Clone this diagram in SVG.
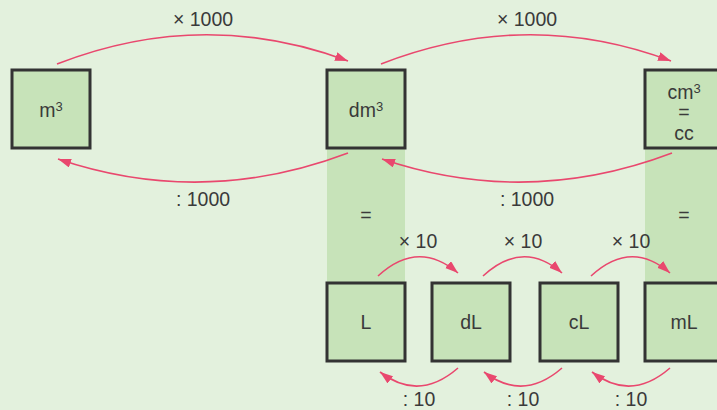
<svg xmlns="http://www.w3.org/2000/svg" width="717" height="410" viewBox="0 0 717 410">
<defs>
<style>
.box{fill:#c7e3b9;stroke:#333;stroke-width:3}
.strip{fill:#c7e3b9}
.t{font-family:"Liberation Sans",Arial,sans-serif;font-size:19.5px;fill:#3a3a3a;text-anchor:middle}
.s{font-size:13px}
.c{fill:none;stroke:#e9486e;stroke-width:1.6}
</style>
<marker id="ah" markerUnits="userSpaceOnUse" markerWidth="14" markerHeight="10" refX="13" refY="4.5" orient="auto">
<path d="M0,0 L13,4.5 L0,9 z" fill="#e9486e"/>
</marker>
</defs>
<rect width="717" height="410" fill="#e3f1dd"/>
<rect class="strip" x="327" y="148" width="78" height="134"/>
<rect class="strip" x="645" y="148" width="72" height="134"/>
<text class="t" x="366" y="222">=</text>
<text class="t" x="684" y="222">=</text>
<g id="connectors">
<path class="c" marker-end="url(#ah)" d="M57,64 Q203,7 348,61"/>
<path class="c" marker-end="url(#ah)" d="M381,64 Q527,7 671,61"/>
<path class="c" marker-end="url(#ah)" d="M348,153 Q203,208 58,159"/>
<path class="c" marker-end="url(#ah)" d="M672,153 Q527,208 382,159"/>
<path class="c" marker-end="url(#ah)" d="M378,276 Q418,239 458,273"/>
<path class="c" marker-end="url(#ah)" d="M483,276 Q523,239 562,273"/>
<path class="c" marker-end="url(#ah)" d="M591,276 Q631,239 670,273"/>
<path class="c" marker-end="url(#ah)" d="M458,368 Q419,402 380,372"/>
<path class="c" marker-end="url(#ah)" d="M562,368 Q523,402 484,372"/>
<path class="c" marker-end="url(#ah)" d="M670,368 Q631,402 592,372"/>
<text class="t" x="203" y="26">× 1000</text>
<text class="t" x="527" y="26">× 1000</text>
<text class="t" x="203" y="206">: 1000</text>
<text class="t" x="527" y="206">: 1000</text>
<text class="t" x="418" y="248">× 10</text>
<text class="t" x="523" y="248">× 10</text>
<text class="t" x="631" y="248">× 10</text>
<text class="t" x="419" y="406">: 10</text>
<text class="t" x="523" y="406">: 10</text>
<text class="t" x="631" y="406">: 10</text>
</g>
<g id="m3"><rect class="box" x="12" y="70" width="78" height="78"/><text class="t" x="51" y="117">m<tspan class="s" dy="-6">3</tspan></text></g>
<g id="dm3"><rect class="box" x="327" y="70" width="78" height="78"/><text class="t" x="366" y="117">dm<tspan class="s" dy="-6">3</tspan></text></g>
<g id="cm3"><rect class="box" x="645" y="70" width="78" height="78"/><text class="t" x="684" y="99">cm<tspan class="s" dy="-6">3</tspan></text><text class="t" x="684" y="119">=</text><text class="t" x="684" y="140">cc</text></g>
<g id="L"><rect class="box" x="327" y="283" width="78" height="78"/><text class="t" x="366" y="329">L</text></g>
<g id="dL"><rect class="box" x="432" y="283" width="78" height="78"/><text class="t" x="471" y="329">dL</text></g>
<g id="cL"><rect class="box" x="540" y="283" width="78" height="78"/><text class="t" x="579" y="329">cL</text></g>
<g id="mL"><rect class="box" x="645" y="283" width="78" height="78"/><text class="t" x="684" y="329">mL</text></g>
</svg>
